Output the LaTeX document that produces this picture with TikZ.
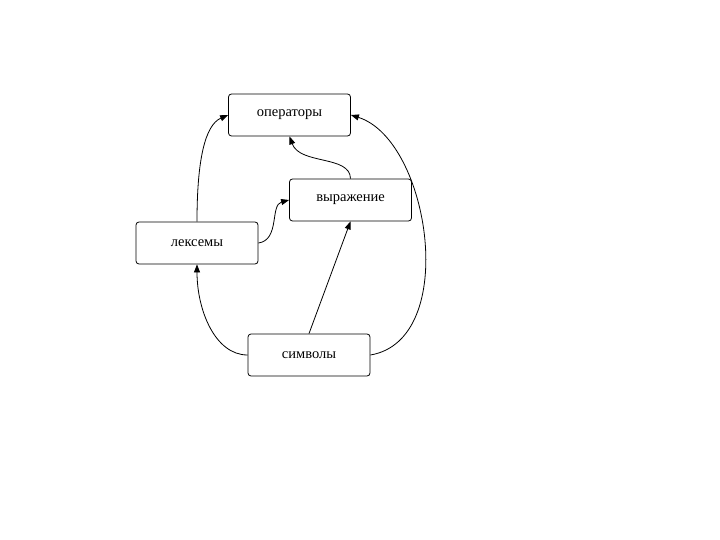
\documentclass[tikz,border=0pt]{standalone}
\usepackage{fontspec}
\setmainfont{Liberation Serif}
\usetikzlibrary{arrows.meta}
\begin{document}
\begin{tikzpicture}[x=1pt,y=-1pt,
  box/.style={draw,rounded corners=3pt,minimum width=122pt,minimum height=42pt,inner sep=0pt,font=\fontsize{14.5}{16}\selectfont,line width=0.8pt},
  conn/.style={line width=0.8pt,-{Triangle[length=8pt,width=6pt]}}]
\useasboundingbox (0,0) rectangle (720,540);
\node[box] (op) at (289.5,115) {операторы};
\node[box] (vy) at (350.5,200) {выражение};
\node[box] (lx) at (197,243) {лексемы};
\node[box] (sy) at (309,355) {символы};
\draw[conn] (lx.north) .. controls (197,160) and (205,125) .. (op.west);
\draw[conn] (sy.east) .. controls (460,340) and (430,140) .. (op.east);
\draw[conn] (vy.north) .. controls (350,155) and (300,165) .. (op.south);
\draw[conn] (lx.east) .. controls (280,240) and (270,205) .. (vy.west);
\draw[conn] (sy.north) -- (vy.south);
\draw[conn] (sy.west) .. controls (215,355) and (197,310) .. (lx.south);
\end{tikzpicture}
\end{document}
